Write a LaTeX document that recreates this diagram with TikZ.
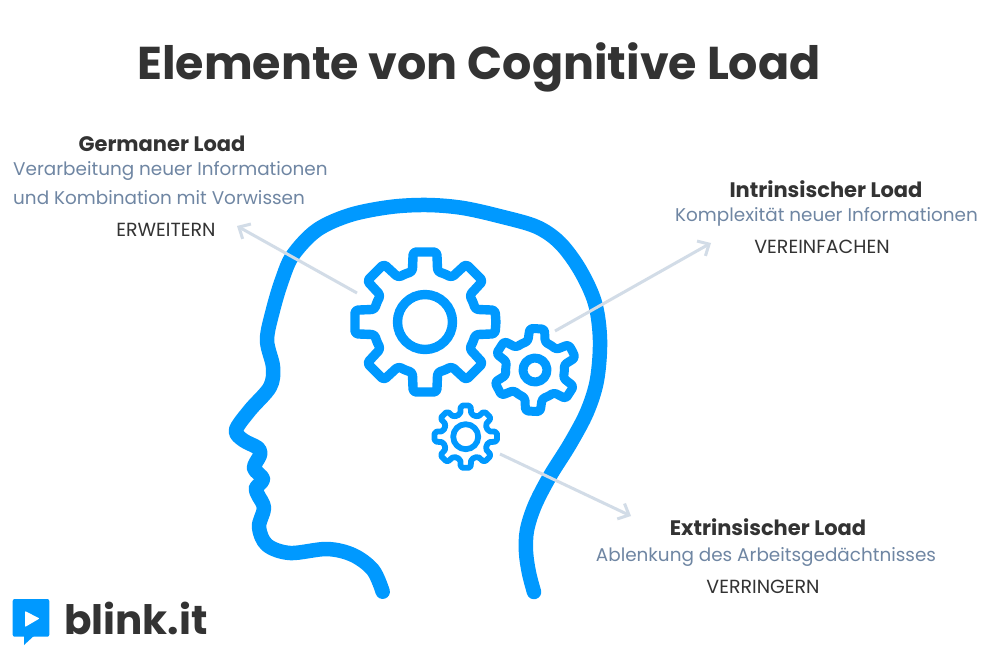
\documentclass[tikz,border=0pt]{standalone}
\usepackage{fontspec}
\setmainfont{Poppins}
\usetikzlibrary{arrows.meta}
\definecolor{headblue}{HTML}{0099FF}
\definecolor{arrowgrey}{HTML}{D2DCE7}
\definecolor{bodytxt}{HTML}{6F86A3}
\definecolor{darktxt}{HTML}{333333}
\tikzset{
  headline/.style={draw=headblue,line width=14.5pt,line cap=round,line join=round},
  gearline/.style={draw=headblue,line join=round},
  pointer/.style={draw=arrowgrey,line width=3pt,-{Straight Barb[length=9pt,width=17pt,line width=3pt]}},
  titletxt/.style={anchor=base,inner sep=0pt,text=darktxt,font=\bfseries\fontsize{46}{50}\selectfont},
  headtxt/.style={anchor=base,inner sep=0pt,text=darktxt,font=\bfseries\fontsize{21}{24}\selectfont},
  bodyt/.style={anchor=base,inner sep=0pt,text=bodytxt,font=\fontsize{18.4}{22}\selectfont},
  tasktxt/.style={anchor=base,inner sep=0pt,text=darktxt,font=\fontsize{19}{22}\selectfont},
}
% #1 centre, #2 rotation, #3 teeth, #4 tip radius, #5 valley radius, #6 tip half width, #7 base half width, #8 line width, #9 hub radius
\newcommand{\drawgear}[9]{%
  \begin{scope}[shift={(#1)},rotate=#2]
    \pgfmathsetmacro{\tA}{atan(#6/#4)}
    \pgfmathsetmacro{\bA}{atan(#7/#5)}
    \pgfmathsetmacro{\stp}{360/#3}
    \pgfmathtruncatemacro{\last}{#3-1}
    \draw[gearline,line width=#8pt,rounded corners=#8*0.32pt]
      (0:#4) -- ({\tA}:#4) -- ({\bA}:#5) -- ({\stp/2}:#5)
      \foreach \k in {1,...,\last} {
        -- ({\k*\stp-\bA}:#5) -- ({\k*\stp-\tA}:#4) -- ({\k*\stp+\tA}:#4)
        -- ({\k*\stp+\bA}:#5) -- ({\k*\stp+\stp/2}:#5)
      }
      -- ({-\bA}:#5) -- ({-\tA}:#4) -- cycle;
    \draw[gearline,line width=#8pt] (0,0) circle (#9);
  \end{scope}}
\begin{document}
\begin{tikzpicture}[x=1pt,y=-1pt]
\useasboundingbox (0,0) rectangle (1000,666);
\fill[white] (0,0) rectangle (1000,666);
% head
\draw[headline] plot[smooth,tension=0.55] coordinates {
 (382.7,591.7) (373,570) (353,555) (327,549) (290,553) (267,545) (259,527)
 (264,508) (258,495) (256,488) (263,479) (254,468) (260,455) (258,448)
 (243,440) (236,430) (250,410) (270,387) (273,367) (267,340) (273,310)
 (282,280) (293,255) (317,230) (350,215) (390,207) (427,205) (463,208)
 (503,217) (537,227) (560,243) (580,270) (595,303) (600,340) (597,380)
 (587,412) (570,444) (550,476) (535,505) (527,530) (526,552) (529,573) (534,592)};
% gears
\drawgear{425,322}{0}{8}{71}{52}{12}{13}{9.4}{27.5}
\drawgear{535,370}{27}{6}{42}{29.5}{7.5}{9}{9}{12}
\drawgear{465.7,436.7}{0}{8}{31.5}{23}{5}{5.6}{5.8}{12.5}
% pointer ends
\coordinate (gA) at (357,293);
\coordinate (lA) at (237,226);
\coordinate (gB) at (555,331);
\coordinate (lB) at (711,243);
\coordinate (gC) at (500,454);
\coordinate (lC) at (631,516);
\draw[pointer] (gA) -- (lA);
\draw[pointer] (gB) -- (lB);
\draw[pointer] (gC) -- (lC);
% texts
\node[titletxt] (title) at (479,80) {Elemente von Cognitive Load};
\node[headtxt] (germH) at (162,151) {Germaner Load};
\node[bodyt,anchor=base west] (germA) at (13,175) {Verarbeitung neuer Informationen};
\node[bodyt,anchor=base west] (germB) at (13,204) {und Kombination mit Vorwissen};
\node[tasktxt] (germT) at (166,236) {ERWEITERN};
\node[headtxt] (intH) at (826,197) {Intrinsischer Load};
\node[bodyt] (intA) at (826.5,221) {Komplexität neuer Informationen};
\node[tasktxt] (intT) at (822,253) {VEREINFACHEN};
\node[headtxt] (extH) at (768,535) {Extrinsischer Load};
\node[bodyt] (extA) at (766,561) {Ablenkung des Arbeitsgedächtnisses};
\node[tasktxt] (extT) at (763,593) {VERRINGERN};
% logo
\fill[headblue,rounded corners=2pt] (12.7,599) rectangle (49.3,636.7);
\fill[headblue] (24,634) -- (24,645) -- (36,634) -- cycle;
\fill[white,rounded corners=0.8pt] (25,611) -- (25,627) -- (39.5,618.5) -- cycle;
\node[anchor=base west,inner sep=0pt,text=darktxt,font=\bfseries\fontsize{40.5}{44}\selectfont] (logo) at (64,634) {blink.it};
\end{tikzpicture}
\end{document}
